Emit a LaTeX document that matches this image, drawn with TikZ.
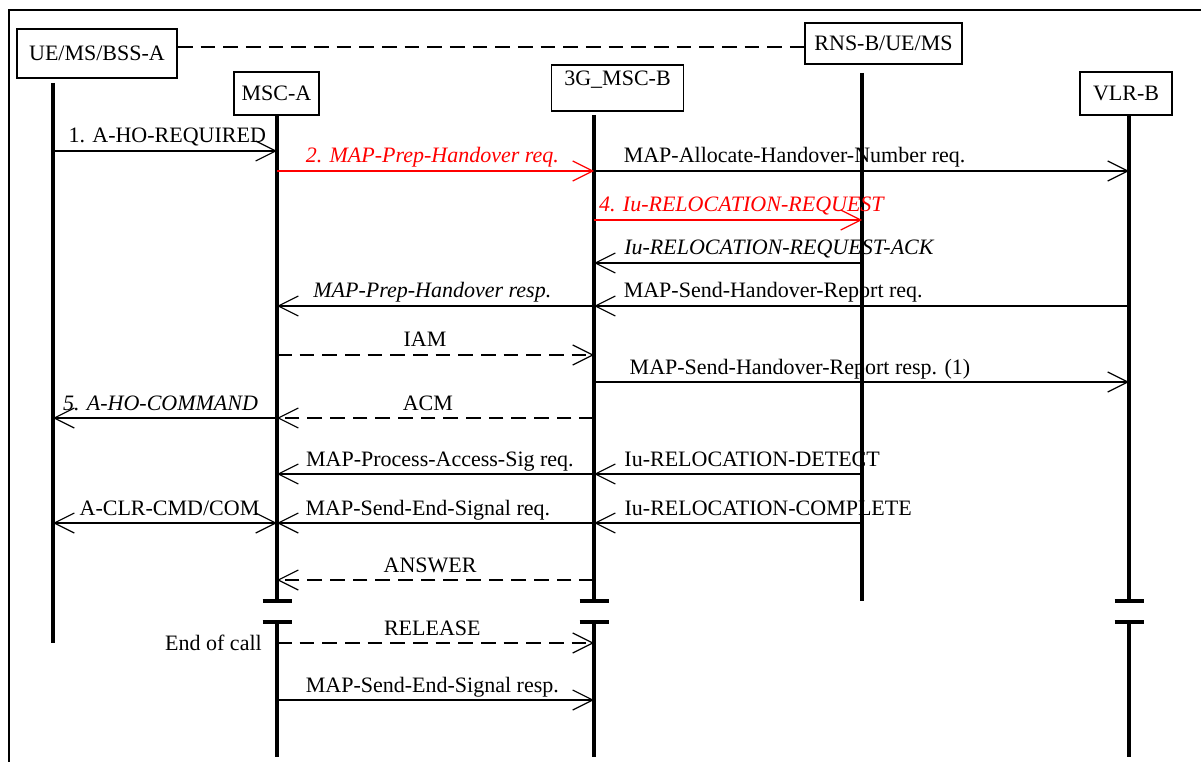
\documentclass[tikz,border=0pt]{standalone}
\usepackage{fontspec}
\setmainfont{Liberation Serif}
\usetikzlibrary{arrows.meta,calc}

\begin{document}
\begin{tikzpicture}[
        x=0.75pt, y=-0.75pt,
        font=\fontsize{16.5}{19}\selectfont,
        >={Straight Barb[length=15pt,width=15pt]},
        % entity boxes and their lifelines
        entity/.style={rectangle, draw, line width=1.4pt, inner sep=2pt},
        life/.style={line width=2.6pt},
        bar/.style={line width=3pt},
        % messages
        msg/.style={line width=0.9pt, ->},
        sig/.style={msg, dash pattern=on 11pt off 6pt},
        lbl/.style={anchor=base, yshift=6pt, inner sep=0pt},
        itl/.style={font=\fontsize{16.5}{19}\selectfont\itshape}
    ]
        \useasboundingbox (0,0) rectangle (1201,762);
        \draw[line width=1.5pt] (9,762) -- (9,10) -- (1201,10);

        \node[entity, minimum width=120pt, minimum height=36.75pt] (ue) at (97,53.5) {UE/MS/BSS-A};
        \node[entity, minimum width=63.75pt, minimum height=32.25pt] (msca) at (276.5,93.5) {MSC-A};
        \node[entity, minimum width=99pt, minimum height=34pt, text depth=14.5pt] (mscb) at (617.5,88) {3G\_MSC-B};
        \node[entity, minimum width=117.75pt, minimum height=30.75pt] (rns) at (883.5,43.5) {RNS-B/UE/MS};
        \node[entity, minimum width=69pt, minimum height=32.25pt] (vlr) at (1126,93.5) {VLR-B};

        \coordinate (tie) at (0,47);
        \draw[line width=1.4pt, dash pattern=on 11pt off 6pt] (ue.east |- tie) -- (rns.west |- tie);

        % lifeline tops
        \coordinate (ueL) at (53,83);
        \coordinate (mscaL) at (277,115);
        \coordinate (mscbL) at (594,115);
        \coordinate (rnsL) at (862,73);
        \coordinate (vlrL) at (1129,115);

        % rows
        \foreach \n/\y in {1/151,2/171,3/220,4/263,5/306,6/355,7/382,8/418,9/474,10/523,11/580,12/643,13/700}
            \coordinate (r\n) at (0,\y);
        \coordinate (brkA) at (0,601);
        \coordinate (brkB) at (0,622);
        \coordinate (bot) at (0,757);

        \draw[life] (ueL) -- (ueL |- r12);
        \draw[life] (rnsL) -- (rnsL |- brkA);
        \foreach \l in {mscaL,mscbL,vlrL} {
            \draw[life] (\l) -- (\l |- brkA);
            \draw[life] (\l |- brkB) -- (\l |- bot);
            \draw[bar] ($(\l |- brkA)+(-14.5,0)$) -- ++(29,0);
            \draw[bar] ($(\l |- brkB)+(-14.5,0)$) -- ++(29,0);
        }

        % Connections
        \draw[msg] (ueL |- r1) -- node[lbl, pos=0.51] {1. A-HO-REQUIRED} (mscaL |- r1);
        \draw[msg, red] (mscaL |- r2) -- node[lbl, itl, pos=0.49] {2. MAP-Prep-Handover req.} (mscbL |- r2);
        \draw[msg] (mscbL |- r2) -- node[lbl, pos=0.375] {MAP-Allocate-Handover-Number req.} (vlrL |- r2);
        \draw[msg, red] (mscbL |- r3) -- node[lbl, itl, pos=0.55] {4. Iu-RELOCATION-REQUEST} (rnsL |- r3);
        \draw[msg] (rnsL |- r4) -- node[lbl, itl, pos=0.31] {Iu-RELOCATION-REQUEST-ACK} (mscbL |- r4);
        \draw[msg] (mscbL |- r5) -- node[lbl, itl, pos=0.51] {MAP-Prep-Handover resp.} (mscaL |- r5);
        \draw[msg] (vlrL |- r5) -- node[lbl, pos=0.665] {MAP-Send-Handover-Report req.} (mscbL |- r5);
        \draw[sig] (mscaL |- r6) -- node[lbl, pos=0.467] {IAM} (mscbL |- r6);
        \draw[msg] (mscbL |- r7) -- node[lbl, pos=0.385] {MAP-Send-Handover-Report resp. (1)} (vlrL |- r7);
        \draw[msg] (mscaL |- r8) -- node[lbl, itl, pos=0.52] {5. A-HO-COMMAND} (ueL |- r8);
        \draw[sig] (mscbL |- r8) -- node[lbl, pos=0.524] {ACM} (mscaL |- r8);
        \draw[msg] (mscbL |- r9) -- node[lbl, pos=0.486] {MAP-Process-Access-Sig req.} (mscaL |- r9);
        \draw[msg] (rnsL |- r9) -- node[lbl, pos=0.41] {Iu-RELOCATION-DETECT} (mscbL |- r9);
        \draw[msg, <->] (ueL |- r10) -- node[lbl, pos=0.52] {A-CLR-CMD/COM} (mscaL |- r10);
        \draw[msg] (mscbL |- r10) -- node[lbl, pos=0.524] {MAP-Send-End-Signal req.} (mscaL |- r10);
        \draw[msg] (rnsL |- r10) -- node[lbl, pos=0.35] {Iu-RELOCATION-COMPLETE} (mscbL |- r10);
        \draw[sig] (mscbL |- r11) -- node[lbl, pos=0.517] {ANSWER} (mscaL |- r11);
        \draw[sig] (mscaL |- r12) node[anchor=east, inner sep=0pt, xshift=-11pt] {End of call}
            -- node[lbl, pos=0.49] {RELEASE} (mscbL |- r12);
        \draw[msg] (mscaL |- r13) -- node[lbl, pos=0.49] {MAP-Send-End-Signal resp.} (mscbL |- r13);
    \end{tikzpicture}
\end{document}
